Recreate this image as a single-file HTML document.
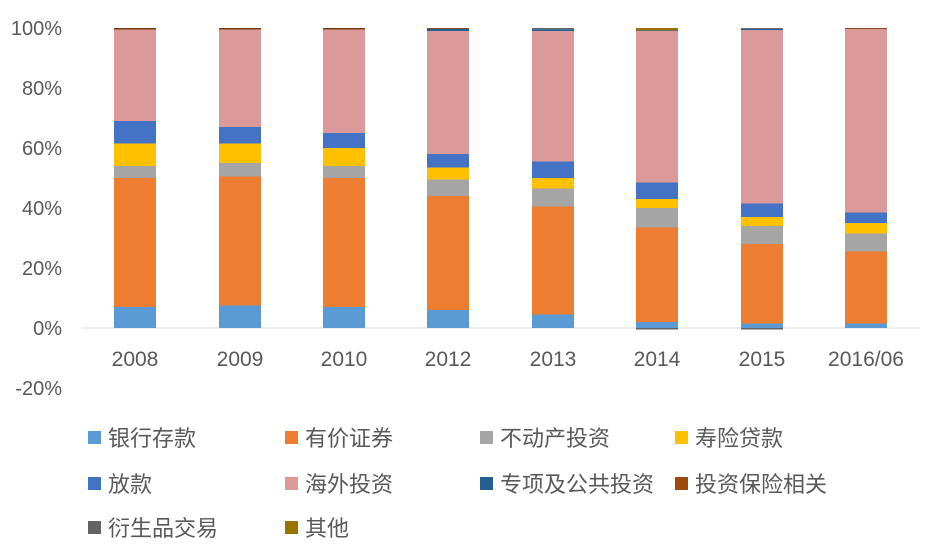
<!DOCTYPE html>
<html><head><meta charset="utf-8"><style>
body{margin:0;background:#fff}
svg text{font-family:"Liberation Sans","Noto Sans CJK SC",sans-serif;fill:#595959}
</style></head><body>
<svg width="935" height="546" xmlns="http://www.w3.org/2000/svg">
<rect width="935" height="546" fill="#fff"/>
<g font-size="20" text-anchor="end">
<text x="62" y="35">100%</text>
<text x="62" y="95">80%</text>
<text x="62" y="155">60%</text>
<text x="62" y="215">40%</text>
<text x="62" y="275">20%</text>
<text x="62" y="335">0%</text>
<text x="62" y="395">-20%</text>
</g>
<line x1="83" y1="328" x2="920" y2="328" stroke="#d9d9d9" stroke-width="1"/>
<g>
<rect x="114" y="307" width="42" height="21" fill="#5B9BD5"/>
<rect x="114" y="178" width="42" height="129" fill="#ED7D31"/>
<rect x="114" y="166" width="42" height="12" fill="#A5A5A5"/>
<rect x="114" y="143.5" width="42" height="22.5" fill="#FFC000"/>
<rect x="114" y="121" width="42" height="22.5" fill="#4472C4"/>
<rect x="114" y="29.5" width="42" height="91.5" fill="#DB9A99"/>
<rect x="114" y="28" width="42" height="1.5" fill="#7a3a10"/>

<rect x="219" y="305.5" width="42" height="22.5" fill="#5B9BD5"/>
<rect x="219" y="176.5" width="42" height="129" fill="#ED7D31"/>
<rect x="219" y="163" width="42" height="13.5" fill="#A5A5A5"/>
<rect x="219" y="143.5" width="42" height="19.5" fill="#FFC000"/>
<rect x="219" y="127" width="42" height="16.5" fill="#4472C4"/>
<rect x="219" y="29.5" width="42" height="97.5" fill="#DB9A99"/>
<rect x="219" y="28" width="42" height="1.5" fill="#7a3a10"/>

<rect x="323" y="307" width="42" height="21" fill="#5B9BD5"/>
<rect x="323" y="178" width="42" height="129" fill="#ED7D31"/>
<rect x="323" y="166" width="42" height="12" fill="#A5A5A5"/>
<rect x="323" y="148" width="42" height="18" fill="#FFC000"/>
<rect x="323" y="133" width="42" height="15" fill="#4472C4"/>
<rect x="323" y="29.5" width="42" height="103.5" fill="#DB9A99"/>
<rect x="323" y="28" width="42" height="1.5" fill="#7a3a10"/>

<rect x="427" y="310" width="42" height="18" fill="#5B9BD5"/>
<rect x="427" y="196" width="42" height="114" fill="#ED7D31"/>
<rect x="427" y="179.5" width="42" height="16.5" fill="#A5A5A5"/>
<rect x="427" y="167.5" width="42" height="12" fill="#FFC000"/>
<rect x="427" y="154" width="42" height="13.5" fill="#4472C4"/>
<rect x="427" y="31" width="42" height="123" fill="#DB9A99"/>
<rect x="427" y="28.9" width="42" height="2.1" fill="#255E91"/>
<rect x="427" y="28" width="42" height="0.9" fill="#7a3a10"/>

<rect x="532" y="314.5" width="42" height="13.5" fill="#5B9BD5"/>
<rect x="532" y="206.5" width="42" height="108" fill="#ED7D31"/>
<rect x="532" y="188.5" width="42" height="18" fill="#A5A5A5"/>
<rect x="532" y="178" width="42" height="10.5" fill="#FFC000"/>
<rect x="532" y="161.5" width="42" height="16.5" fill="#4472C4"/>
<rect x="532" y="31" width="42" height="130.5" fill="#DB9A99"/>
<rect x="532" y="29.2" width="42" height="1.8" fill="#255E91"/>
<rect x="532" y="28" width="42" height="1.2" fill="#636363"/>

<rect x="636" y="322" width="42" height="6" fill="#5B9BD5"/>
<rect x="636" y="227.5" width="42" height="94.5" fill="#ED7D31"/>
<rect x="636" y="208" width="42" height="19.5" fill="#A5A5A5"/>
<rect x="636" y="199" width="42" height="9" fill="#FFC000"/>
<rect x="636" y="182.5" width="42" height="16.5" fill="#4472C4"/>
<rect x="636" y="31" width="42" height="151.5" fill="#DB9A99"/>
<rect x="636" y="30.4" width="42" height="0.6" fill="#255E91"/>
<rect x="636" y="28" width="42" height="2.4" fill="#997300"/>
<rect x="636" y="328" width="42" height="1.5" fill="#636363"/>

<rect x="741" y="323.5" width="42" height="4.5" fill="#5B9BD5"/>
<rect x="741" y="244" width="42" height="79.5" fill="#ED7D31"/>
<rect x="741" y="226" width="42" height="18" fill="#A5A5A5"/>
<rect x="741" y="217" width="42" height="9" fill="#FFC000"/>
<rect x="741" y="203.5" width="42" height="13.5" fill="#4472C4"/>
<rect x="741" y="30.1" width="42" height="173.4" fill="#DB9A99"/>
<rect x="741" y="28.9" width="42" height="1.2" fill="#255E91"/>
<rect x="741" y="28" width="42" height="0.9" fill="#636363"/>
<rect x="741" y="328" width="42" height="1.5" fill="#636363"/>

<rect x="845" y="323.5" width="42" height="4.5" fill="#5B9BD5"/>
<rect x="845" y="251.5" width="42" height="72" fill="#ED7D31"/>
<rect x="845" y="233.5" width="42" height="18" fill="#A5A5A5"/>
<rect x="845" y="223" width="42" height="10.5" fill="#FFC000"/>
<rect x="845" y="212.5" width="42" height="10.5" fill="#4472C4"/>
<rect x="845" y="28.9" width="42" height="183.6" fill="#DB9A99"/>
<rect x="845" y="28" width="42" height="0.9" fill="#7a3a10"/>
</g>
<g font-size="21" text-anchor="middle">
<text x="135" y="366">2008</text><text x="240" y="366">2009</text><text x="344" y="366">2010</text><text x="448" y="366">2012</text><text x="553" y="366">2013</text><text x="657" y="366">2014</text><text x="762" y="366">2015</text><text x="866" y="366">2016/06</text>
</g>
<g font-size="22">
<rect x="88" y="431" width="13" height="13" fill="#5B9BD5"/><text x="108" y="446">银行存款</text>
<rect x="285" y="431" width="13" height="13" fill="#ED7D31"/><text x="305" y="446">有价证券</text>
<rect x="480" y="431" width="13" height="13" fill="#A5A5A5"/><text x="500" y="446">不动产投资</text>
<rect x="675" y="431" width="13" height="13" fill="#FFC000"/><text x="695" y="446">寿险贷款</text>
<rect x="88" y="477" width="13" height="13" fill="#4472C4"/><text x="108" y="492">放款</text>
<rect x="285" y="477" width="13" height="13" fill="#DB9A99"/><text x="305" y="492">海外投资</text>
<rect x="480" y="477" width="13" height="13" fill="#255E91"/><text x="500" y="492">专项及公共投资</text>
<rect x="675" y="477" width="13" height="13" fill="#9E480E"/><text x="695" y="492">投资保险相关</text>
<rect x="88" y="521" width="13" height="13" fill="#636363"/><text x="108" y="536">衍生品交易</text>
<rect x="285" y="521" width="13" height="13" fill="#997300"/><text x="305" y="536">其他</text>
</g>
</svg>
</body></html>
